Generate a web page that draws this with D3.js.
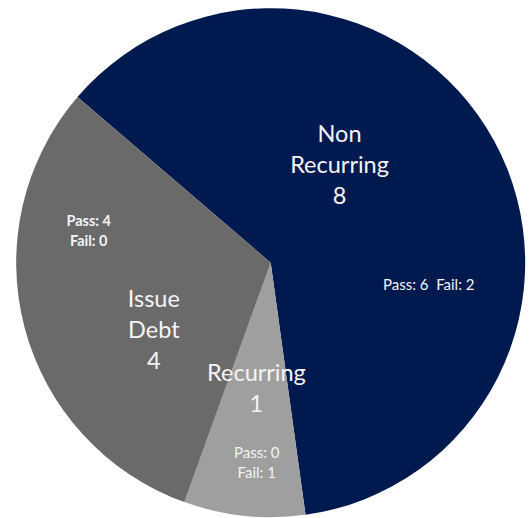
<!DOCTYPE html>
<html>
<head>
<meta charset="utf-8">
<script src="https://cdn.jsdelivr.net/npm/d3@7"></script>
<style>
	body { margin: 0; background: #ffffff; }
	text { font-family: Lato, "Open Sans", sans-serif; fill: #f4f4f4; }
</style>
</head>
<body>
<div id="wrapper"></div>
<script>

// 1. Data

const categories = ["Non Recurring", "Recurring", "Issue Debt"];
const labelLines = [["Non", "Recurring"], ["Recurring"], ["Issue", "Debt"]];
const values = [8, 1, 4];
const passCounts = [6, 0, 4];
const failCounts = [2, 1, 0];
const colors = ["#001a4f", "#9f9f9f", "#6a6a6a"];

// 2. Dimensions

let dimensions = {
	width: 531,
	height: 518,
	cx: 270.7,
	cy: 262.7,
	radius: 254.5
};

// label placement (degrees clockwise from top, distance from centre)
const namePos = [[35, 120], [186.5, 126], [240, 135]];
const passPos = [[98.1, 159.6], [184, 201], [279.8, 184.7]];

// 3. Static elements

const wrapper = d3.select("#wrapper")
					.append("svg")
					.attr("width", dimensions.width)
					.attr("height", dimensions.height);

const bounds = wrapper.append("g")
					.attr("transform", `translate(${dimensions.cx},${dimensions.cy})`);

const rad = deg => deg * Math.PI / 180;
const startDeg = -49.4;

const pie = d3.pie()
				.value(d => d)
				.sort(null)
				.startAngle(rad(startDeg))
				.endAngle(rad(startDeg + 360));

const arc = d3.arc()
				.innerRadius(0)
				.outerRadius(dimensions.radius);

const slices = pie(values);

bounds.selectAll("path.slice")
		.data(slices)
		.enter()
		.append("path")
		.attr("class", "slice")
		.attr("d", arc)
		.style("fill", (d, i) => colors[i]);

// 4. Labels

const bigSize = 23.5;
const bigLine = 31;

slices.forEach((d, i) => {
	const lines = labelLines[i].concat([String(values[i])]);
	const [x, y] = d3.pointRadial(rad(namePos[i][0]), namePos[i][1]);
	const t = bounds.append("text")
					.attr("text-anchor", "middle")
					.style("font-size", bigSize + "px")
					.attr("x", x)
					.attr("y", y - (lines.length - 1) / 2 * bigLine + bigSize * 0.35);
	lines.forEach((line, j) => {
		t.append("tspan")
			.attr("x", x)
			.attr("dy", j === 0 ? 0 : bigLine)
			.text(line);
	});
});

// pass / fail notes
slices.forEach((d, i) => {
	const [x, y] = d3.pointRadial(rad(passPos[i][0]), passPos[i][1]);
	const pass = "Pass: " + passCounts[i];
	const fail = "Fail: " + failCounts[i];
	const t = bounds.append("text")
					.attr("text-anchor", "middle")
					.style("font-size", i === 2 ? "14.5px" : "15px")
					.style("font-weight", i === 2 ? "bold" : "normal");
	if (i === 0) {
		t.attr("x", x).attr("y", y + 5).text(pass + "\u00a0\u00a0" + fail);
	} else {
		t.append("tspan").attr("x", x).attr("y", y - 5).text(pass);
		t.append("tspan").attr("x", x).attr("dy", 20).text(fail);
	}
});

</script>
</body>
</html>
